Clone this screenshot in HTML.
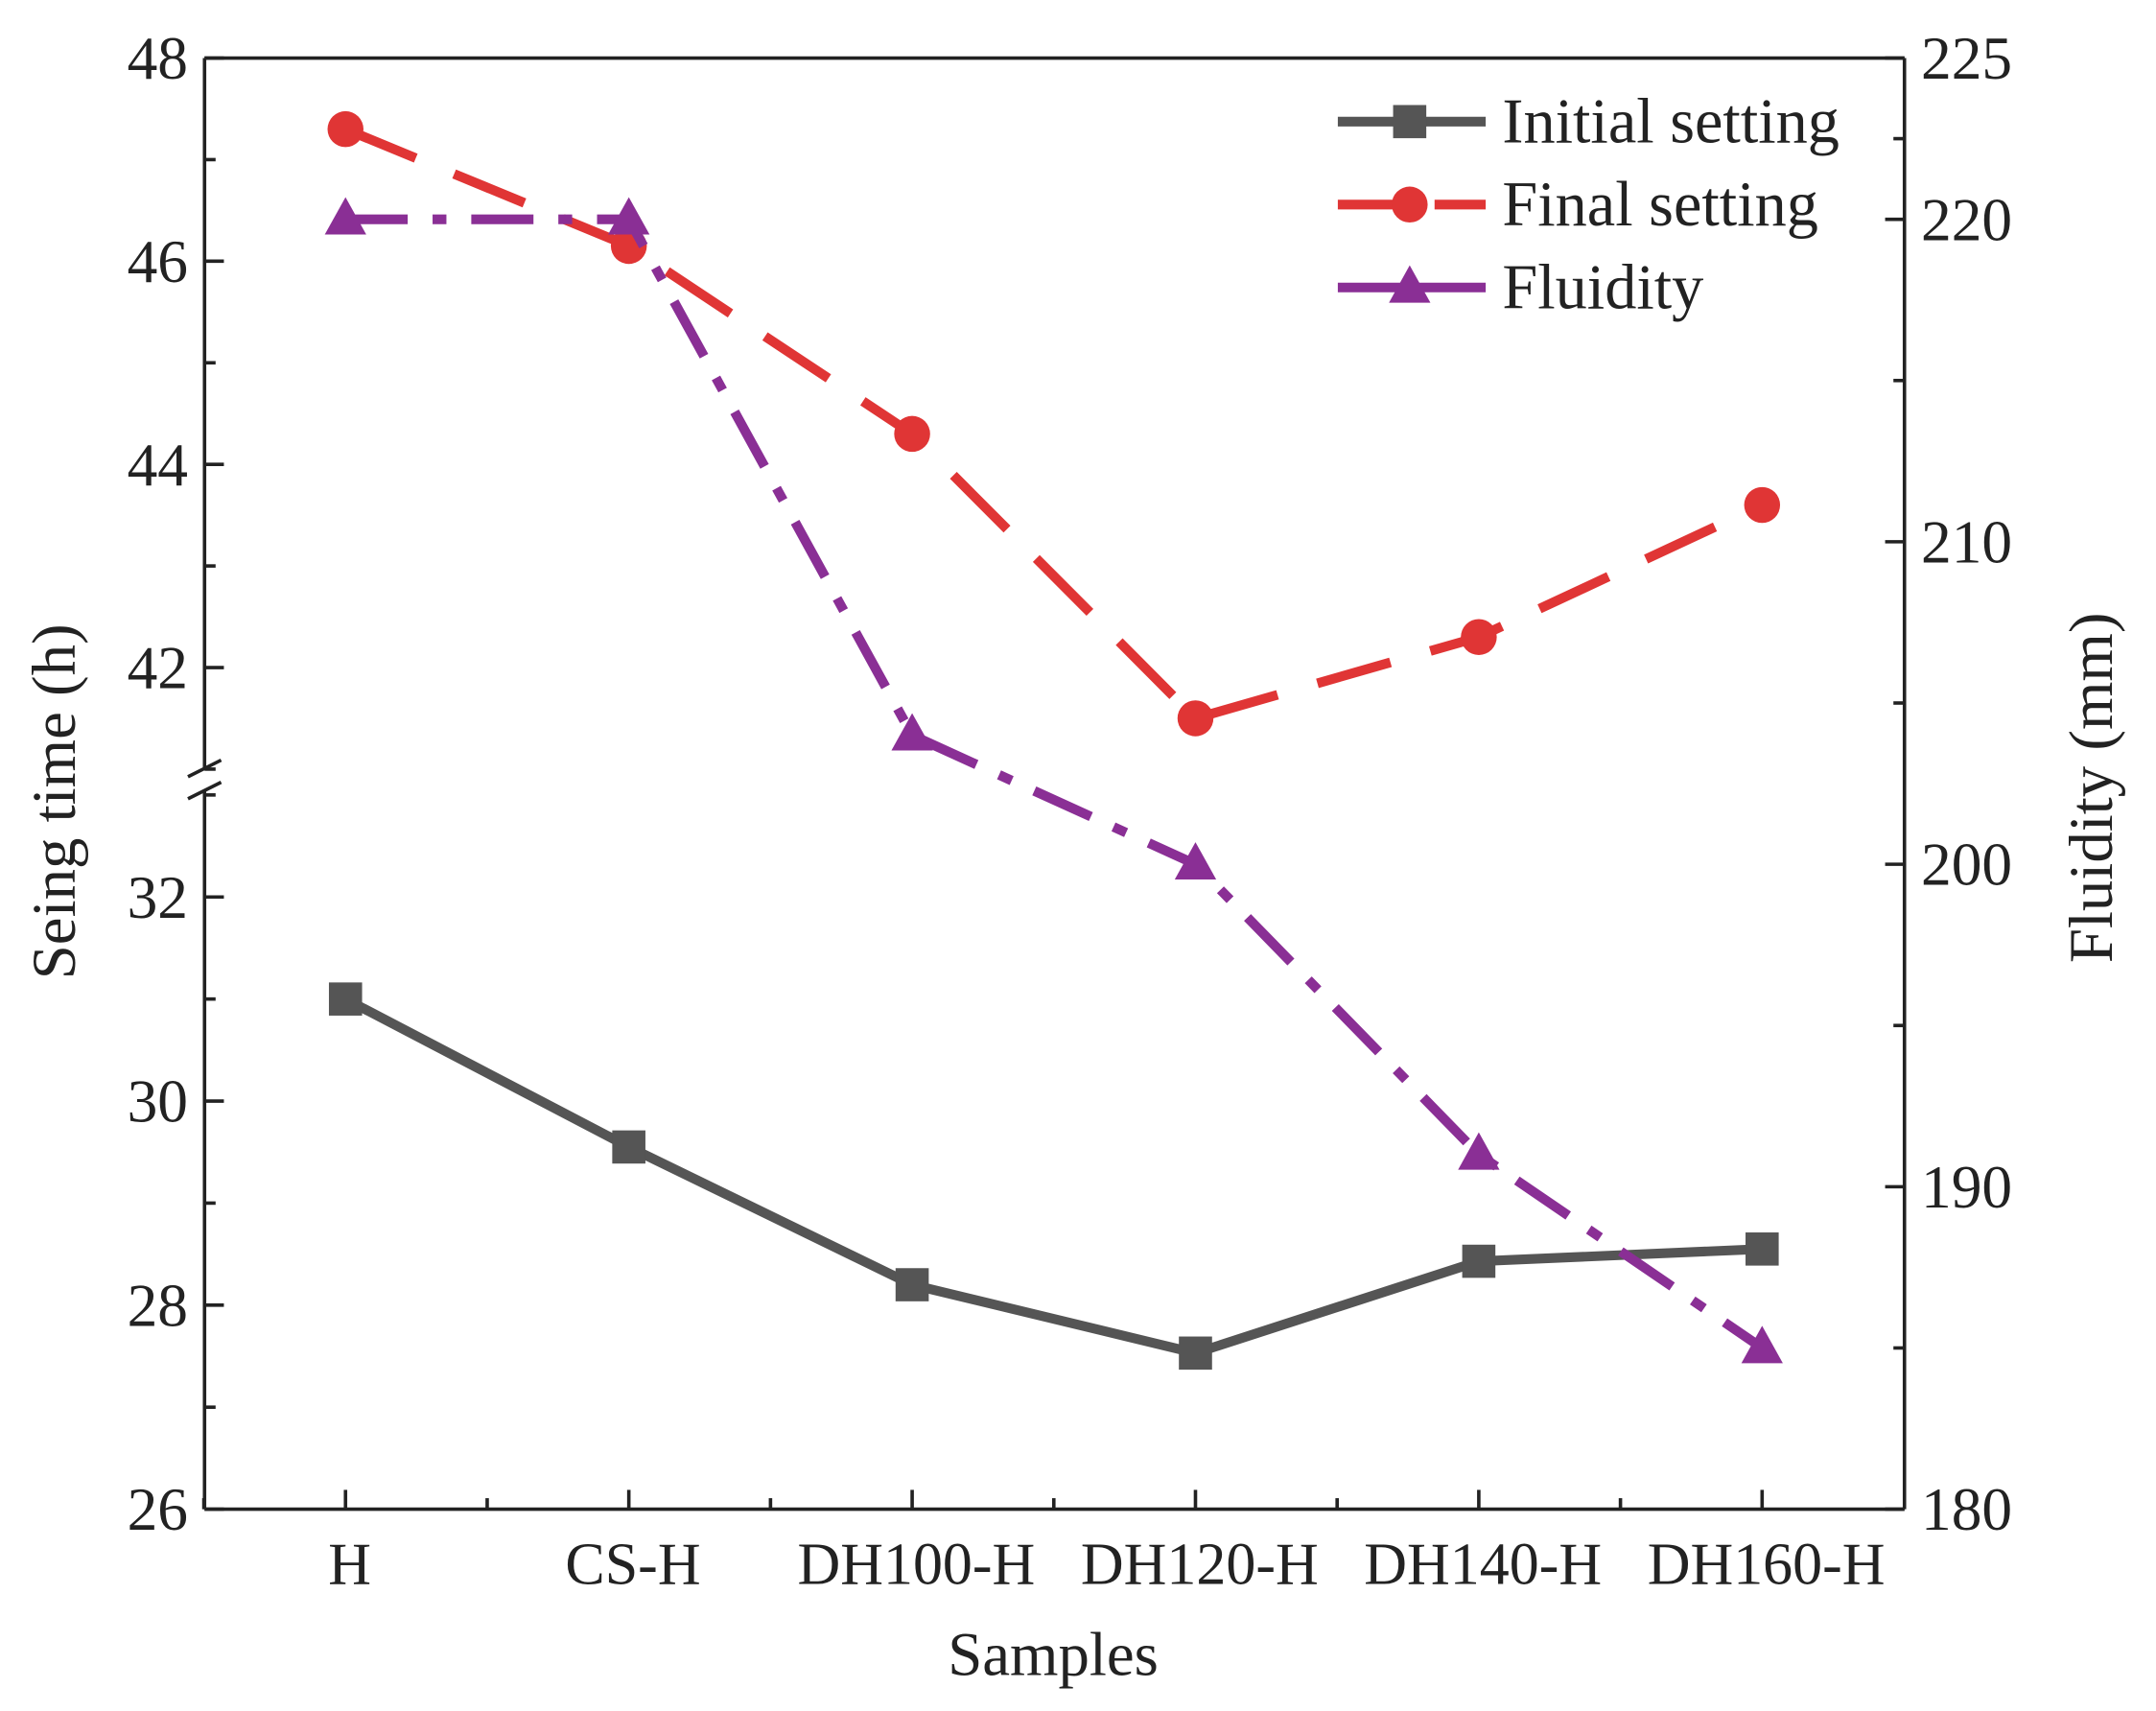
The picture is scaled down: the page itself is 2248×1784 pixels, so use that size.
<!DOCTYPE html>
<html><head><meta charset="utf-8"><style>
html,body{margin:0;padding:0;background:#fff}
svg{display:block}
text{font-family:"Liberation Serif",serif;fill:#222}
</style></head><body>
<svg id="chart" width="2248" height="1784" viewBox="0 0 1560 1238" preserveAspectRatio="none" xmlns="http://www.w3.org/2000/svg">
<g id="axes"></g>
<g id="series"></g>
<g id="legend"></g>
</svg>
<script>
const categories = ["H","CS-H","DH100-H","DH120-H","DH140-H","DH160-H"];
const initialSetting = [31.0, 29.55, 28.2, 27.53, 28.43, 28.55];
const finalSetting = [47.3, 46.15, 44.3, 41.5, 42.3, 43.6];
const fluidity = [220, 220, 204, 200, 191, 185];
const leftTicksUpper = [42,44,46,48];
const leftTicksLower = [26,28,30,32];
const rightTicks = [180,190,200,210,220,225];

const NS="http://www.w3.org/2000/svg";
const L=148,R=1378,T=42,B=1092;
function xPos(i){return 250+i*205;}
function yLeft(v){return v>=36 ? 42+(48-v)*73.5 : 1092-(v-26)*73.83;}
function yRight(v){return B-(v-180)*(B-T)/45;}
function mk(tag,attrs,parent){const e=document.createElementNS(NS,tag);for(const k in attrs)e.setAttribute(k,attrs[k]);parent.appendChild(e);return e;}
const axes=document.getElementById('axes'),series=document.getElementById('series'),legend=document.getElementById('legend');
const ax={stroke:"#222","stroke-width":2.5,fill:"none"};

let e;
e=mk('line',Object.assign({x1:L,y1:T,x2:L,y2:556},ax),axes);

e=mk('line',Object.assign({x1:L,y1:572,x2:L,y2:B},ax),axes);

e=mk('path',Object.assign({d:`M${L-12},${562} L${L+12},${550} M${L-12},${578} L${L+12},${566}`},ax),axes);

e=mk('line',Object.assign({x1:R,y1:T,x2:R,y2:B},ax),axes);

e=mk('line',Object.assign({x1:L,y1:B,x2:R,y2:B},ax),axes);

e=mk('line',Object.assign({x1:L,y1:T,x2:R,y2:T},ax),axes);


function leftTick(v){
  const y=yLeft(v);
  mk('line',Object.assign({x1:L,y1:y,x2:L+14,y2:y},ax),axes);
  if(v<48){const ym=yLeft(v+1);mk('line',Object.assign({x1:L,y1:ym,x2:L+8,y2:ym},ax),axes);}
  const t=mk('text',{x:L-12,y:y+15,"font-size":44,"text-anchor":"end"},axes);t.textContent=v;
  
}
leftTicksUpper.forEach(leftTick);
leftTicksLower.forEach(leftTick);
mk('line',Object.assign({x1:L,y1:yLeft(41),x2:L+8,y2:yLeft(41)},ax),axes);
rightTicks.forEach(v=>{
  const y=yRight(v);
  mk('line',Object.assign({x1:R-14,y1:y,x2:R,y2:y},ax),axes);
  if(v<220){const ym=yRight(v+5);mk('line',Object.assign({x1:R-8,y1:ym,x2:R,y2:ym},ax),axes);}
  const t=mk('text',{x:R+12,y:y+15,"font-size":44,"text-anchor":"start"},axes);t.textContent=v;
  
});
mk('line',Object.assign({x1:R-8,y1:yRight(222.5),x2:R,y2:yRight(222.5)},ax),axes);
categories.forEach((c,i)=>{
  const x=xPos(i);
  mk('line',Object.assign({x1:x,y1:B,x2:x,y2:B-14},ax),axes);
  if(i<categories.length-1){mk('line',Object.assign({x1:x+102.5,y1:B,x2:x+102.5,y2:B-8},ax),axes);}
  const t=mk('text',{x:x+3,y:B+54,"font-size":43,"text-anchor":"middle"},axes);t.textContent=c;
  
});
mk('line',Object.assign({x1:xPos(0)-102.5,y1:B,x2:xPos(0)-102.5,y2:B-8},ax),axes);
e=mk('text',{x:762,y:1212,"font-size":45,"text-anchor":"middle"},axes);e.textContent="Samples";

e=mk('text',{x:0,y:0,"font-size":45,"text-anchor":"middle",transform:"translate(54,580) rotate(-90)"},axes);e.textContent="Seing time (h)";

e=mk('text',{x:0,y:0,"font-size":45,"text-anchor":"middle",transform:"translate(1528,570) rotate(-90)"},axes);e.textContent="Fluidity (mm)";


function square(x,y,col,p){return mk('rect',{x:x-12,y:y-12,width:24,height:24,fill:col},p);}
function circle(x,y,col,p){return mk('circle',{cx:x,cy:y,r:13,fill:col},p);}
function tri(x,y,col,p){return mk('polygon',{points:`${x},${y-16} ${x+15},${y+11} ${x-15},${y+11}`,fill:col},p);}

function drawSeries(vals,yf,col,dash,marker,name){
  const pts=vals.map((v,i)=>xPos(i)+","+yf(v)).join(" ");
  const pl=mk('polyline',{points:pts,fill:"none",stroke:col,"stroke-width":7,"stroke-dasharray":dash,"stroke-linejoin":"round"},series);
  
  vals.forEach((v,i)=>{const m=marker(xPos(i),yf(v),col,series);
    });
}
drawSeries(initialSetting,yLeft,"#555","none",square,"initial-setting");
drawSeries(finalSetting,yLeft,"#e03535","55 30",circle,"final-setting");
drawSeries(fluidity,yRight,"#8a2f95","45 18 10 18",tri,"fluidity");

const leg=[["Initial setting","#555","none",square],["Final setting","#e03535","40 30",circle],["Fluidity","#8a2f95","none",tri]];
leg.forEach((l,i)=>{
  const y=88+i*60;
  const g=mk('g',{},legend);
  
  mk('line',{x1:968,y1:y,x2:1075,y2:y,stroke:l[1],"stroke-width":7,"stroke-dasharray":l[2]},g);
  l[3](1020,y,l[1],g);
  const t=mk('text',{x:1087,y:y+15,"font-size":46},g);t.textContent=l[0];
});
</script>
</body></html>
